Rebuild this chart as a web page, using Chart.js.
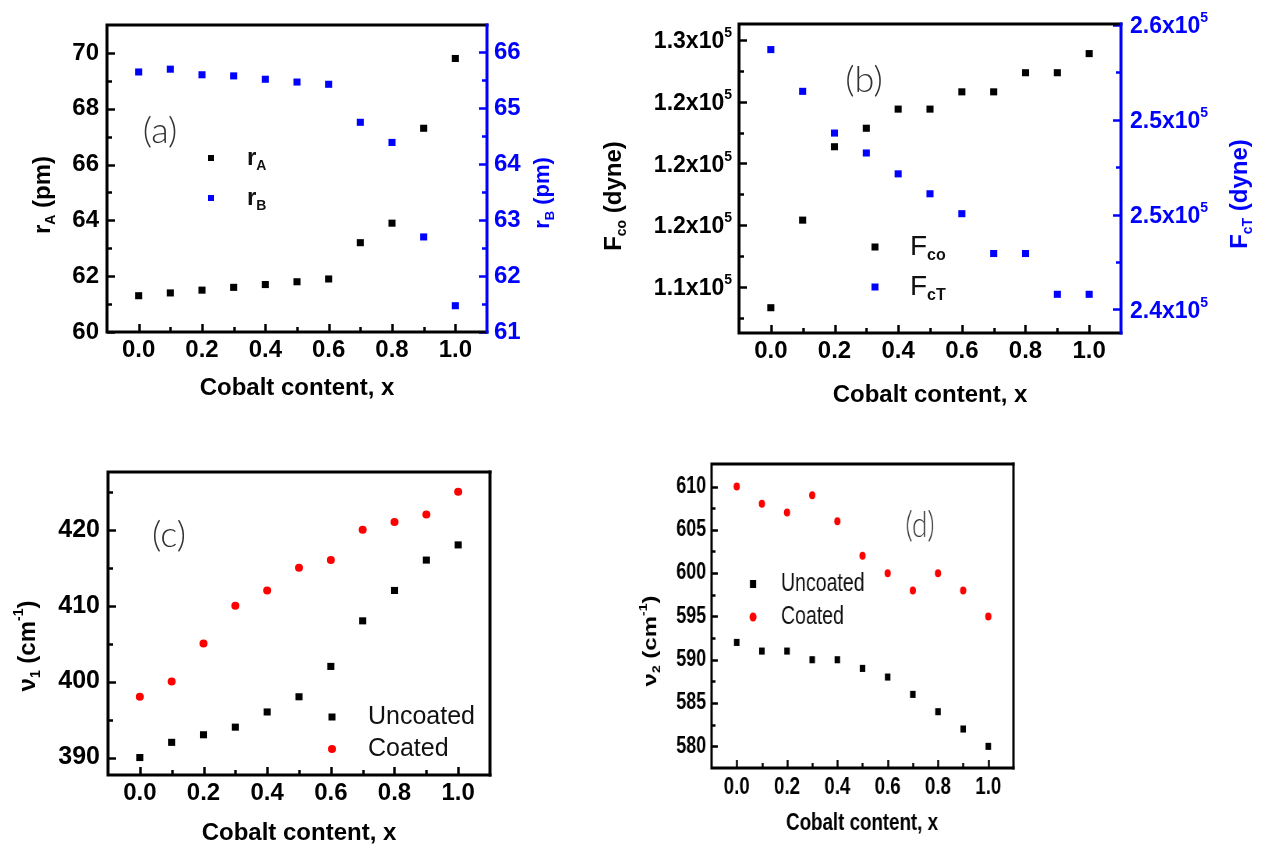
<!DOCTYPE html>
<html>
<head>
<meta charset="utf-8">
<script src="https://cdn.jsdelivr.net/npm/chart.js@4.4.0/dist/chart.umd.min.js"></script>
<style>
  body { margin: 0; background: #fff; width: 1267px; height: 849px; overflow: hidden; position: relative; }
  canvas { position: absolute; }
</style>
</head>
<body>
<canvas id="chartA" width="600" height="430" style="left:0;top:0"></canvas>
<canvas id="chartB" width="667" height="430" style="left:600px;top:0"></canvas>
<canvas id="chartC" width="600" height="419" style="left:0;top:430px"></canvas>
<!-- panel (d) is drawn wide and squeezed to 78% horizontally -->
<canvas id="chartD" width="855" height="419" style="left:600px;top:430px;width:667px;height:419px"></canvas>
<script>
// cobalt content x of the samples
const cobalt = [0.0, 0.1, 0.2, 0.3, 0.4, 0.5, 0.6, 0.7, 0.8, 0.9, 1.0];

// (a) ionic radii (pm)
const rA = [61.3, 61.4, 61.5, 61.6, 61.7, 61.8, 61.9, 63.2, 63.9, 67.3, 69.8];
const rB = [65.65, 65.7, 65.6, 65.58, 65.52, 65.47, 65.43, 64.75, 64.39, 62.7, 61.47];

// (b) force constants (dyne)
const fco = [108300, 115400, 121350, 122850, 124400, 124400, 125800, 125800, 127350, 127350, 128900];
const fct = [258700, 256500, 254300, 253250, 252150, 251100, 250050, 247950, 247950, 245800, 245800];

// (c) v1 band (cm-1)
const v1Uncoated = [390, 392, 393, 394, 396, 398, 402, 408, 412, 416, 418];
const v1Coated = [398, 400, 405, 410, 412, 415, 416, 420, 421, 422, 425];

// (d) v2 band (cm-1)
const v2Uncoated = [592, 591, 591, 590, 590, 589, 588, 586, 584, 582, 580];
const v2Coated = [610, 608, 607, 609, 606, 602, 600, 598, 600, 598, 595];

// ticks
const xTicks = [0, 0.2, 0.4, 0.6, 0.8, 1.0];
const rATicks = [60, 62, 64, 66, 68, 70];
const rBTicks = [61, 62, 63, 64, 65, 66];
const fcoTicks = [110000, 115000, 120000, 125000, 130000];
const fcoLabels = ['1.1x10', '1.2x10', '1.2x10', '1.2x10', '1.3x10'];
const fctTicks = [245000, 250000, 255000, 260000];
const fctLabels = ['2.4x10', '2.5x10', '2.5x10', '2.6x10'];
const v1Ticks = [390, 400, 410, 420];
const v2Ticks = [580, 585, 590, 595, 600, 605, 610];

const BLUE = '#0000ff';
const RED = '#ff0000';
const SANS = '"Liberation Sans", Arial, sans-serif';

// midpoints between majors, plus half steps past the ends when they fit
function minorsOf(majors, min, max) {
  const step = majors[1] - majors[0];
  const out = [];
  for (let i = 0; i < majors.length - 1; i++) out.push((majors[i] + majors[i + 1]) / 2);
  const lo = majors[0] - step / 2, hi = majors[majors.length - 1] + step / 2;
  if (lo > min + step * 0.05) out.unshift(lo);
  if (hi < max - step * 0.05) out.push(hi);
  return out;
}

function pts(ys) {
  return cobalt.map((x, i) => ({ x: x, y: ys[i] }));
}

// text with sub/superscripts; parts = [[text, 'n'|'sub'|'sup'], ...]
function drawRich(ctx, parts, x, y, o) {
  const small = o.small || Math.round(o.size * 0.6);
  const fontFor = k => k === 'n'
    ? `${o.weight || 'bold'} ${o.size}px ${o.family || SANS}`
    : `${o.subWeight || o.weight || 'bold'} ${small}px ${o.family || SANS}`;
  let total = 0;
  parts.forEach(([t, k]) => { ctx.font = fontFor(k); total += ctx.measureText(t).width; });
  ctx.save();
  ctx.translate(x, y);
  if (o.rotate) ctx.rotate(-Math.PI / 2);
  let cx = o.align === 'center' ? -total / 2 : (o.align === 'right' ? -total : 0);
  ctx.fillStyle = o.color || '#000';
  ctx.textAlign = 'left';
  ctx.textBaseline = 'middle';
  parts.forEach(([t, k]) => {
    ctx.font = fontFor(k);
    const dy = k === 'sub' ? o.size * 0.32 : (k === 'sup' ? -o.size * 0.38 : 0);
    ctx.fillText(t, cx, dy);
    cx += ctx.measureText(t).width;
  });
  ctx.restore();
}

function drawMarker(ctx, style, color, x, y, size) {
  ctx.fillStyle = color;
  if (style === 'circle') {
    ctx.beginPath();
    ctx.arc(x, y, size / 2, 0, Math.PI * 2);
    ctx.fill();
  } else {
    ctx.fillRect(x - size / 2, y - size / 2, size, size);
  }
}

// frame, inward ticks, titles, legend and panel letter
const decor = {
  id: 'decor',
  afterDraw(chart, args, o) {
    const ctx = chart.ctx, a = chart.chartArea;
    const ox = o.origin[0], oy = o.origin[1], sx = o.sx || 1;
    const px = v => (v - ox) / sx;
    ctx.save();

    o.ticks.forEach(t => {
      const sc = chart.scales[t.scale];
      ctx.strokeStyle = t.color || '#000';
      ctx.lineWidth = 2.5;
      [[t.major, 8], [t.minor, 5]].forEach(([vals, len]) => vals.forEach(v => {
        const p = Math.round(sc.getPixelForValue(v)) + 0.5;
        ctx.beginPath();
        if (t.side === 'bottom') { ctx.moveTo(p, a.bottom); ctx.lineTo(p, a.bottom - len); }
        else if (t.side === 'left') { ctx.moveTo(a.left, p); ctx.lineTo(a.left + len, p); }
        else { ctx.moveTo(a.right, p); ctx.lineTo(a.right - len, p); }
        ctx.stroke();
      }));
    });

    ctx.lineWidth = 3;
    ctx.lineCap = 'square';
    ctx.strokeStyle = '#000';
    ctx.beginPath();
    ctx.moveTo(a.right, a.top); ctx.lineTo(a.left, a.top);
    ctx.lineTo(a.left, a.bottom); ctx.lineTo(a.right, a.bottom);
    ctx.stroke();
    ctx.strokeStyle = o.rightColor || '#000';
    ctx.beginPath();
    ctx.moveTo(a.right, a.top); ctx.lineTo(a.right, a.bottom);
    ctx.stroke();

    // tick labels with exponents
    (o.expLabels || []).forEach(l => {
      const sc = chart.scales[l.scale];
      l.values.forEach((v, i) => {
        const p = sc.getPixelForValue(v) + 2;
        const x = l.side === 'left' ? a.left - 7 : a.right + 9;
        drawRich(ctx, [[l.labels[i], 'n'], ['5', 'sup']], x, p,
          { size: 23, small: 14, color: l.color, align: l.side === 'left' ? 'right' : 'left' });
      });
    });

    (o.titles || []).forEach(t => {
      drawRich(ctx, t.parts, px(t.at[0]), t.at[1] - oy,
        { size: t.size || 24, small: t.small || 14, color: t.color, rotate: t.rotate, align: 'center' });
    });

    (o.legend || []).forEach(e => {
      drawMarker(ctx, e.style, e.color, px(e.marker[0]), e.marker[1] - oy, e.size);
      drawRich(ctx, e.parts, px(e.text[0]), e.text[1] - oy,
        { size: e.fontSize, small: e.small, weight: e.weight, subWeight: 'bold', color: '#111', align: 'left' });
    });

    if (o.letter) {
      ctx.font = `300 ${o.letter.size || 36}px Lato, "Open Sans", sans-serif`;
      ctx.fillStyle = '#333';
      ctx.textAlign = 'center';
      ctx.textBaseline = 'middle';
      ctx.fillText(o.letter.text, px(o.letter.at[0]), o.letter.at[1] - oy);
    }
    ctx.restore();
  }
};

// common x axis; sizes of the axis boxes pin the plot frame in place
function xScale(height, pad, size) {
  return {
    type: 'linear', position: 'bottom', min: -0.1, max: 1.1,
    afterBuildTicks: s => { s.ticks = xTicks.map(v => ({ value: v })); },
    afterFit: s => { s.height = height; },
    grid: { display: false, drawTicks: false },
    border: { display: false },
    ticks: { padding: pad, color: '#000', font: { family: SANS, size: size, weight: 'bold' },
      callback: v => Number(v).toFixed(1) }
  };
}

function yScale(pos, min, max, width, ticks, color, size, show, pad) {
  return {
    type: 'linear', position: pos, min: min, max: max,
    afterBuildTicks: s => { s.ticks = ticks.map(v => ({ value: v })); },
    afterFit: s => { s.width = width; },
    grid: { display: false, drawTicks: false },
    border: { display: false },
    ticks: { display: show, padding: pad || 8, color: color, font: { family: SANS, size: size, weight: 'bold' },
      callback: v => String(v) }
  };
}

function scatterSet(ys, style, color, radius, axis) {
  return {
    data: pts(ys), yAxisID: axis || 'y', pointStyle: style, pointRadius: radius,
    pointHoverRadius: radius, backgroundColor: color, borderWidth: 0
  };
}

function makeChart(id, datasets, scales, padding, decorOpts) {
  return new Chart(document.getElementById(id), {
    type: 'scatter',
    data: { datasets: datasets },
    options: {
      responsive: false, animation: false,
      layout: { padding: padding },
      scales: scales,
      plugins: { legend: { display: false }, tooltip: { enabled: false }, decor: decorOpts }
    },
    plugins: [decor]
  });
}

const xMinor = minorsOf(xTicks, -0.1, 1.1);
const cobaltTitle = [['Cobalt content, x', 'n']];

// (a) frame 107..487 x 25..332
makeChart('chartA',
  [scatterSet(rA, 'rect', '#000', 5), scatterSet(rB, 'rect', BLUE, 5, 'y2')],
  { x: xScale(98, 4, 24), y: yScale('left', 60, 71, 107, rATicks, '#000', 24, true),
    y2: yScale('right', 61, 66.49, 113, rBTicks, BLUE, 24, true, 7) },
  { top: 25, left: 0, right: 0, bottom: 0 },
  {
    origin: [0, 0], rightColor: BLUE,
    ticks: [
      { scale: 'x', side: 'bottom', major: xTicks, minor: xMinor },
      { scale: 'y', side: 'left', major: rATicks, minor: minorsOf(rATicks, 60, 71) },
      { scale: 'y2', side: 'right', major: rBTicks, minor: minorsOf(rBTicks, 61, 66.49), color: BLUE }
    ],
    titles: [
      { parts: cobaltTitle, at: [297, 388] },
      { parts: [['r', 'n'], ['A', 'sub'], [' (pm)', 'n']], at: [43, 195], rotate: true },
      { parts: [['r', 'n'], ['B', 'sub'], [' (pm)', 'n']], at: [543, 193], rotate: true, color: BLUE, size: 22, small: 13 }
    ],
    legend: [
      { style: 'rect', color: '#000', marker: [211, 158], size: 6, text: [247, 158], parts: [['r', 'n'], ['A', 'sub']], fontSize: 24, small: 14 },
      { style: 'rect', color: BLUE, marker: [211, 198], size: 6, text: [247, 198], parts: [['r', 'n'], ['B', 'sub']], fontSize: 24, small: 14 }
    ],
    letter: { text: '(a)', at: [160, 131] }
  });

// (b) frame 739..1121 x 24..333
makeChart('chartB',
  [scatterSet(fco, 'rect', '#000', 5), scatterSet(fct, 'rect', BLUE, 5, 'y2')],
  { x: xScale(97, 4, 24), y: yScale('left', 106250, 131300, 139, fcoTicks, '#000', 22, false),
    y2: yScale('right', 243760, 260050, 146, fctTicks, BLUE, 22, false) },
  { top: 24, left: 0, right: 0, bottom: 0 },
  {
    origin: [600, 0], rightColor: BLUE,
    ticks: [
      { scale: 'x', side: 'bottom', major: xTicks, minor: xMinor },
      { scale: 'y', side: 'left', major: fcoTicks, minor: minorsOf(fcoTicks, 106250, 131300) },
      { scale: 'y2', side: 'right', major: fctTicks, minor: minorsOf(fctTicks, 243760, 260050), color: BLUE }
    ],
    expLabels: [
      { scale: 'y', side: 'left', values: fcoTicks, labels: fcoLabels, color: '#000' },
      { scale: 'y2', side: 'right', values: fctTicks, labels: fctLabels, color: BLUE }
    ],
    titles: [
      { parts: cobaltTitle, at: [930, 395] },
      { parts: [['F', 'n'], ['co', 'sub'], [' (dyne)', 'n']], at: [614, 196], rotate: true },
      { parts: [['F', 'n'], ['cT', 'sub'], [' (dyne)', 'n']], at: [1240, 194], rotate: true, color: BLUE }
    ],
    legend: [
      { style: 'rect', color: '#000', marker: [875, 247], size: 7, text: [910, 247], parts: [['F', 'n'], ['co', 'sub']], fontSize: 28, small: 16, weight: 'normal' },
      { style: 'rect', color: BLUE, marker: [875, 287], size: 7, text: [910, 287], parts: [['F', 'n'], ['cT', 'sub']], fontSize: 28, small: 16, weight: 'normal' }
    ],
    letter: { text: '(b)', at: [864, 80] }
  });

// (c) frame 108..490 x 472..775
makeChart('chartC',
  [scatterSet(v1Uncoated, 'rect', '#000', 5), scatterSet(v1Coated, 'circle', RED, 4)],
  { x: xScale(74, 4, 24), y: yScale('left', 387.7, 427.6, 108, v1Ticks, '#000', 25, true) },
  { top: 42, left: 0, right: 110, bottom: 0 },
  {
    origin: [0, 430],
    ticks: [
      { scale: 'x', side: 'bottom', major: xTicks, minor: xMinor },
      { scale: 'y', side: 'left', major: v1Ticks, minor: minorsOf(v1Ticks, 387.7, 427.6) }
    ],
    titles: [
      { parts: cobaltTitle, at: [299, 833] },
      { parts: [['\u03bd', 'n'], ['1', 'sub'], [' (cm', 'n'], ['-1', 'sup'], [')', 'n']], at: [28, 646], rotate: true }
    ],
    legend: [
      { style: 'rect', color: '#000', marker: [332, 717], size: 7, text: [368, 717], parts: [['Uncoated', 'n']], fontSize: 25, weight: 'normal' },
      { style: 'circle', color: RED, marker: [332, 749], size: 8, text: [368, 749], parts: [['Coated', 'n']], fontSize: 25, weight: 'normal' }
    ],
    letter: { text: '(c)', at: [169, 535] }
  });

// (d) frame 712..1013 x 464..768 on the page; canvas units are page units / 0.78
makeChart('chartD',
  [scatterSet(v2Uncoated, 'rect', '#000', 5), scatterSet(v2Coated, 'circle', RED, 4)],
  { x: xScale(81, 5, 24), y: yScale('left', 577.5, 612.6, 143, v2Ticks, '#000', 23, true, 7) },
  { top: 34, left: 0, right: 325, bottom: 0 },
  {
    origin: [600, 430], sx: 0.78,
    ticks: [
      { scale: 'x', side: 'bottom', major: xTicks, minor: xMinor },
      { scale: 'y', side: 'left', major: v2Ticks, minor: minorsOf(v2Ticks, 577.5, 612.6) }
    ],
    titles: [
      { parts: cobaltTitle, at: [862, 823] },
      { parts: [['\u03bd', 'n'], ['2', 'sub'], [' (cm', 'n'], ['-1', 'sup'], [')', 'n']], at: [651, 641], rotate: true }
    ],
    legend: [
      { style: 'rect', color: '#000', marker: [753, 584], size: 8, text: [781, 584], parts: [['Uncoated', 'n']], fontSize: 25, weight: 'normal' },
      { style: 'circle', color: RED, marker: [753, 617], size: 9, text: [781, 617], parts: [['Coated', 'n']], fontSize: 25, weight: 'normal' }
    ],
    letter: { text: '(d)', at: [920, 525] }
  });
</script>
</body>
</html>
